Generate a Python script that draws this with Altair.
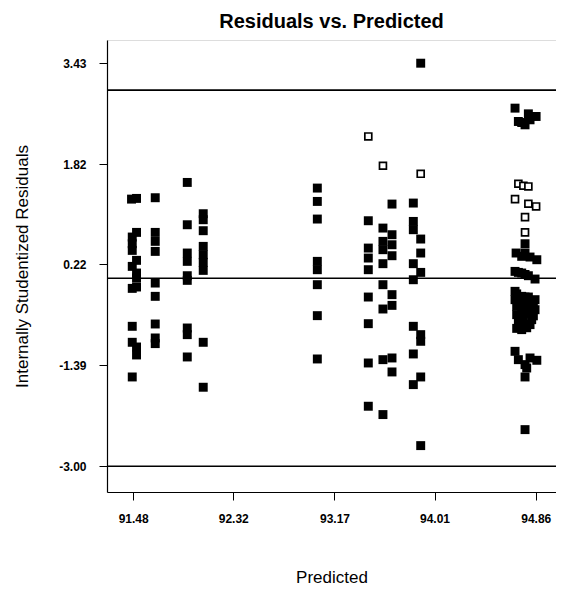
import altair as alt
import pandas as pd

# Axis ticks and reference lines
x_ticks = [91.48, 92.32, 93.17, 94.01, 94.86]
y_ticks = [3.43, 1.82, 0.22, -1.39, -3.00]
ref_lines = [-3.0, 0.0, 3.0]

# Filled squares (predicted, residual)
filled_pred = (
    [91.466, 91.508, 91.508, 91.472, 91.472, 91.472, 91.508, 91.472, 91.508, 91.508,
     91.472, 91.508, 91.472, 91.472, 91.508, 91.508, 91.472]
    + [91.665] * 9
    + [91.934] * 9
    + [92.068] * 9
    + [93.026] * 8
    + [93.454] * 8
    + [93.577] * 8
    + [93.653] * 8
    + [93.832] * 8
    + [93.894] * 8
    + [94.686, 94.714, 94.742, 94.770, 94.798, 94.812, 94.863,
       94.770, 94.695, 94.770, 94.812, 94.869, 94.742,
       94.686, 94.742, 94.798, 94.854, 94.714, 94.770,
       94.686, 94.686, 94.700, 94.700, 94.714, 94.742, 94.756, 94.742, 94.756, 94.770,
       94.798, 94.812, 94.798, 94.826, 94.784, 94.854, 94.854, 94.840, 94.728,
       94.700, 94.770, 94.770, 94.826, 94.812, 94.742, 94.700, 94.840,
       94.686, 94.714, 94.770, 94.812, 94.869, 94.784, 94.770, 94.770]
)
filled_resid = (
    [1.262, 1.273, 0.731, 0.657, 0.550, 0.444, 0.285, 0.189, 0.083, 0.003,
     -0.162, -0.140, -0.767, -1.022, -1.097, -1.224, -1.575]
    + [1.284, 0.731, 0.588, 0.428, -0.077, -0.289, -0.730, -0.953, -1.043]
    + [1.528, 0.853, 0.402, 0.269, 0.040, -0.034, -0.794, -0.900, -1.256]
    + [1.029, 0.933, 0.758, 0.508, 0.375, 0.253, 0.125, -1.022, -1.739]
    + [1.438, 1.225, 0.944, 0.269, 0.136, -0.103, -0.597, -1.288]
    + [0.917, 0.481, 0.322, 0.136, -0.300, -0.725, -1.352, -2.042]
    + [0.800, 0.588, 0.455, 0.232, -0.103, -0.491, -1.299, -2.175]
    + [1.183, 0.694, 0.534, 0.359, -0.262, -0.433, -1.272, -1.495]
    + [1.199, 0.906, 0.774, 0.232, -0.024, -0.767, -1.208, -1.697]
    + [3.430, 0.625, 0.402, 0.093, -0.900, -1.006, -1.575, -2.670]
    + [2.713, 2.500, 2.484, 2.447, 2.622, 2.527, 2.580,
       0.550, 0.402, 0.402, 0.338, 0.295, 0.349,
       0.109, 0.083, 0.040, -0.013, 0.093, 0.060,
       -0.209, -0.342, -0.448, -0.581, -0.714, -0.289, -0.390, -0.520, -0.650, -0.741,
       -0.300, -0.420, -0.560, -0.661, -0.790, -0.342, -0.502, -0.600, -0.790,
       -0.250, -0.300, -0.450, -0.520, -0.740, -0.820, -0.800, -0.420,
       -1.166, -1.299, -1.378, -1.272, -1.309, -1.432, -1.575, -2.415]
)

# Open squares (predicted, residual)
open_pred = [93.454, 93.577, 93.894,
             94.714, 94.756, 94.798, 94.686, 94.798, 94.863, 94.770, 94.770]
open_resid = [2.261, 1.794, 1.666,
              1.507, 1.475, 1.464, 1.262, 1.188, 1.145, 0.975, 0.731]

filled_df = pd.DataFrame({"pred": filled_pred, "resid": filled_resid})
open_df = pd.DataFrame({"pred": open_pred, "resid": open_resid})
lines_df = pd.DataFrame({"y": ref_lines})

FONT = "Liberation Sans"
xs = alt.Scale(domain=[91.26, 95.03], nice=False, zero=False)
ys = alt.Scale(domain=[-3.41, 3.80], nice=False, zero=False)

label_expr = "replace(format(datum.value, '.2f'), '\u2212', '-')"

x_axis = alt.Axis(
    values=x_ticks, labelExpr=label_expr, title="Predicted", grid=False,
    domainColor="black", domainWidth=1.2, tickColor="black", tickSize=8,
    labelFont=FONT, labelFontWeight="bold", labelFontSize=12, labelColor="black",
    labelPadding=13, titleFont=FONT, titleFontSize=17, titleFontWeight="normal",
    titleColor="black", titleY=90, titleBaseline="alphabetic",
)
y_axis = alt.Axis(
    values=y_ticks, labelExpr=label_expr, title="Internally Studentized Residuals",
    grid=False, domainColor="black", domainWidth=1.2, tickColor="black", tickSize=8,
    labelFont=FONT, labelFontWeight="bold", labelFontSize=12, labelColor="black",
    labelPadding=13, titleFont=FONT, titleFontSize=17, titleFontWeight="normal",
    titleColor="black", titleX=-85, titleY=226, titleBaseline="middle",
)

rules = alt.Chart(lines_df).mark_rule(color="black", strokeWidth=1.6).encode(
    y=alt.Y("y:Q", scale=ys, axis=y_axis)
)

filled = alt.Chart(filled_df).mark_square(
    filled=True, color="black", size=80, opacity=1
).encode(
    x=alt.X("pred:Q", scale=xs, axis=x_axis),
    y=alt.Y("resid:Q", scale=ys, axis=y_axis),
)

opens = alt.Chart(open_df).mark_square(
    filled=True, fill="white", stroke="black", strokeWidth=1.7, size=48, opacity=1
).encode(
    x=alt.X("pred:Q", scale=xs, axis=x_axis),
    y=alt.Y("resid:Q", scale=ys, axis=y_axis),
)

chart = alt.layer(rules, filled, opens).properties(
    width=449,
    height=452,
    padding={"left": 99, "top": 32, "right": 0, "bottom": 93},
    autosize=alt.AutoSizeParams(type="none"),
    title=alt.TitleParams(
        "Residuals vs. Predicted", font=FONT, fontSize=20, fontWeight="bold",
        color="black", offset=8, anchor="middle",
    ),
).configure_view(stroke=None).configure(background="white")

chart.save("out.html", embed_options={"renderer": "svg", "actions": False})
